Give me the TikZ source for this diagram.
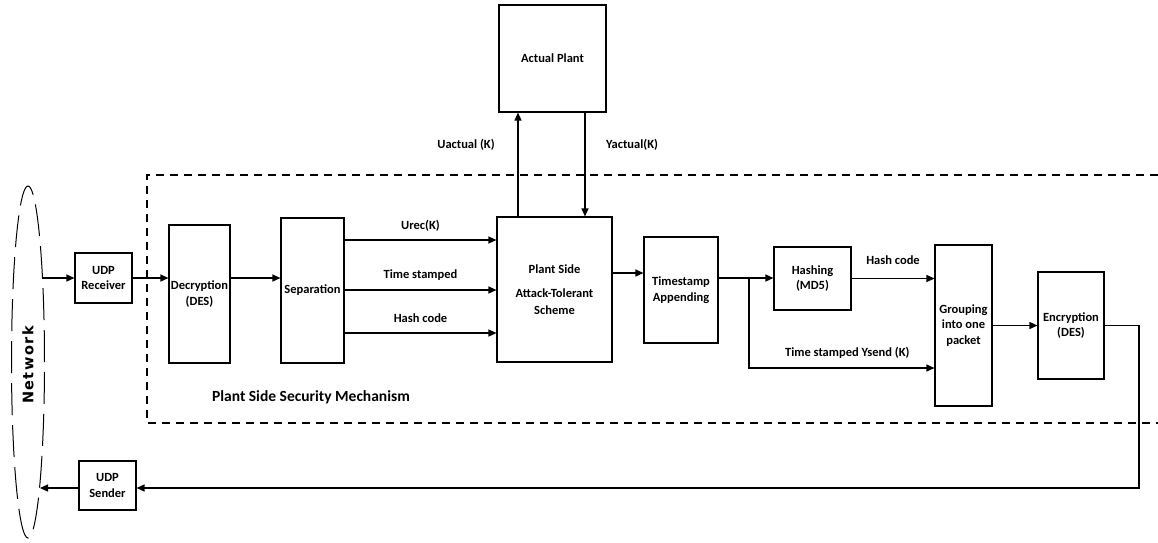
\documentclass[tikz,border=0pt]{standalone}
\usepackage{fontspec}
\setmainfont{Carlito}
\newfontfamily\netfont[LetterSpace=10]{DejaVu Sans}
\usetikzlibrary{shapes.geometric,arrows.meta}
\begin{document}
\begin{tikzpicture}[x=1pt,y=-1pt,
  blk/.style={draw,line width=1.1pt,inner sep=0pt,align=center,font=\bfseries\fontsize{12.5}{15.5}\selectfont},
  lbl/.style={inner sep=0pt,font=\bfseries\fontsize{12.5}{14}\selectfont},
  arr/.style={line width=1.3pt,-{Triangle[length=8pt,width=7pt]}},
  ln/.style={line width=1.3pt},
  dsh/.style={line width=1.2pt,dash pattern=on 8pt off 6pt}]
\useasboundingbox (0,0) rectangle (1158,542);
% network
\node[draw,ellipse,line width=1pt,dash pattern=on 32pt off 10pt,minimum width=33pt,minimum height=352pt,inner sep=0pt] (net) at (28,362) {};
\node[rotate=90,inner sep=0pt,font=\netfont\bfseries\fontsize{14.5}{16}\selectfont] (nettxt) at (28,365) {Network};
\coordinate (netin) at (42,278);
\coordinate (netout) at (40,488);
% dashed region
\draw[dsh] (1158,175) -- (147,175) -- (147,423) -- (1158,423);
\node[lbl,font=\bfseries\fontsize{15.5}{18}\selectfont] (psm) at (311,397) {Plant Side Security Mechanism};
% boxes
\node[blk,minimum width=57pt,minimum height=50pt] (udpr) at (103.5,278) {UDP\\Receiver};
\node[blk,minimum width=57pt,minimum height=49pt] (udps) at (107.5,485.5) {UDP\\Sender};
\node[blk,minimum width=61pt,minimum height=138pt] (dec) at (199.5,294) {Decryption\\(DES)};
\node[blk,minimum width=63pt,minimum height=145pt] (sep) at (312.5,290.5) {Separation};
\node[blk,minimum width=115pt,minimum height=145pt,font=\bfseries\fontsize{12.5}{24}\selectfont] (pss) at (554.5,289.5) {Plant Side\\Attack-Tolerant\\[-7pt]Scheme};
\node[blk,minimum width=107pt,minimum height=107pt] (plant) at (552.5,58.5) {Actual Plant};
\node[blk,minimum width=74pt,minimum height=106pt] (ts) at (681,290) {Timestamp\\Appending};
\node[blk,minimum width=77pt,minimum height=63pt] (hash) at (812.5,278.5) {Hashing\\(MD5)};
\node[blk,minimum width=57pt,minimum height=161pt] (grp) at (963.5,325.5) {Grouping\\into one\\packet};
\node[blk,minimum width=66pt,minimum height=107pt] (enc) at (1071,325.5) {Encryption\\(DES)};
% connectors
\draw[arr] (netin) -- (udpr.west |- netin);
\draw[arr] (udpr.east) -- (dec.west |- udpr.east);
\draw[arr] (dec.east |- 0,278) -- (sep.west |- 0,278);
\draw[arr] (sep.east |- 0,240) -- node[lbl,above=8pt] (l1) {Urec(K)} (pss.west |- 0,240);
\draw[arr] (sep.east |- 0,290) -- node[lbl,above=9pt] (l2) {Time stamped} (pss.west |- 0,290);
\draw[arr] (sep.east |- 0,333) -- node[lbl,above=10pt] (l3) {Hash code} (pss.west |- 0,333);
\draw[arr] (pss.north -| 518,0) -- (plant.south -| 518,0);
\draw[arr] (plant.south -| 585,0) -- (pss.north -| 585,0);
\node[lbl] (ua) at (466,145) {Uactual (K)};
\node[lbl] (ya) at (632,145) {Yactual(K)};
\draw[arr] (pss.east |- 0,273) -- (ts.west |- 0,273);
\coordinate (jn) at (749,278);
\draw[ln] (ts.east |- jn) -- (jn);
\draw[arr] (jn) -- (hash.west |- jn);
\draw[arr] (jn) -- (749,368) -- node[lbl,above=9pt,pos=0.53] (l5) {Time stamped Ysend (K)} (grp.west |- 0,368);
\draw[arr] (hash.east) -- node[lbl,above=13pt] (l4) {Hash code} (grp.west |- hash.east);
\draw[arr] (grp.east) -- (enc.west |- grp.east);
\coordinate (rc) at (1139,325.5);
\draw[arr] (enc.east) -- (rc) -- (1139,488) -- (udps.east |- 0,488);
\draw[arr] (udps.west |- netout) -- (netout);
\end{tikzpicture}
\end{document}
